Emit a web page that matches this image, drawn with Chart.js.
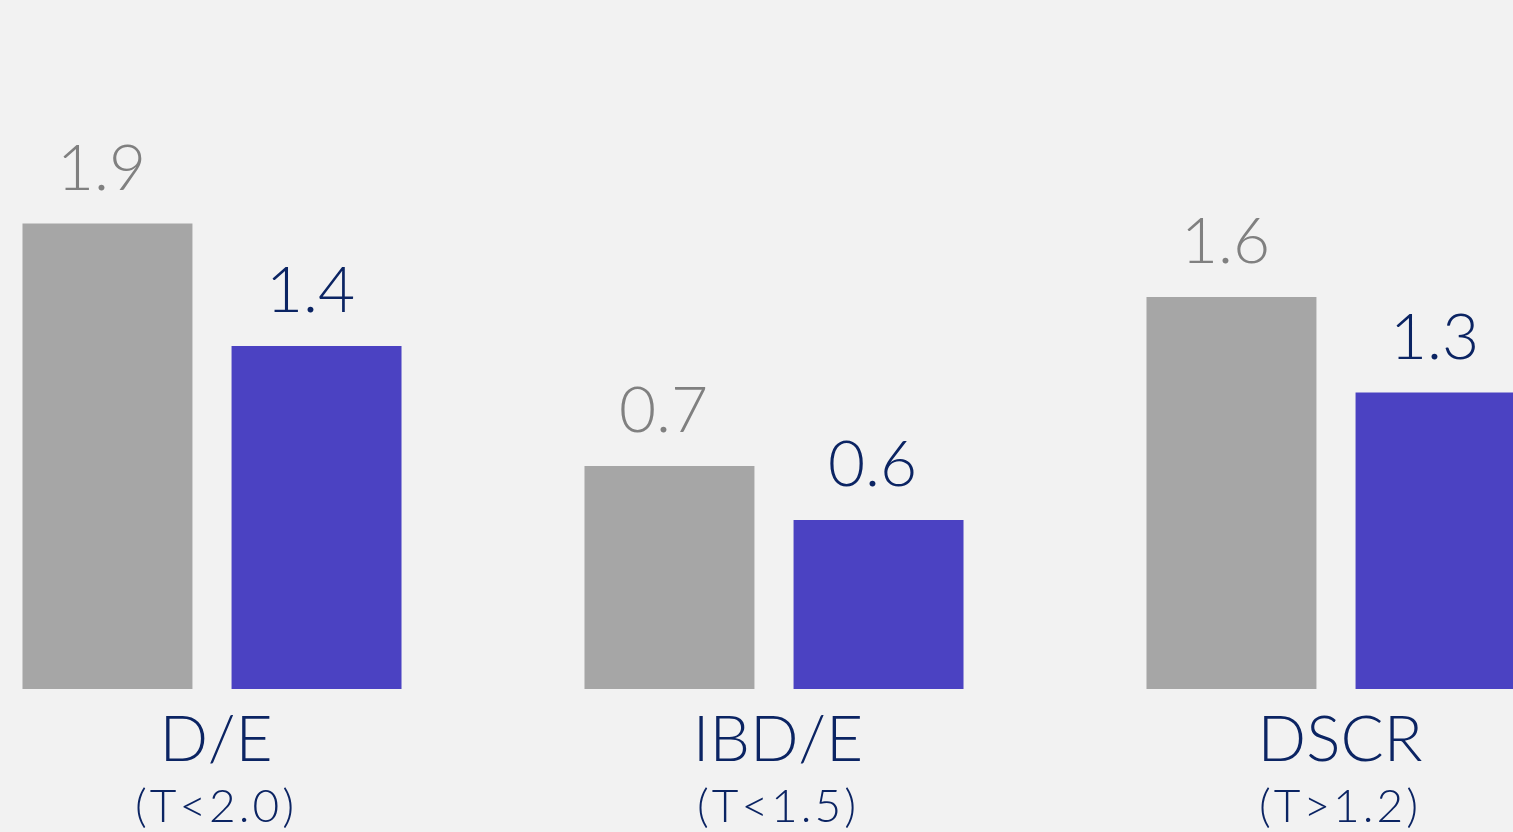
<!DOCTYPE html>
<html>
<head>
<meta charset="utf-8">
<script src="https://cdn.jsdelivr.net/npm/chart.js@4"></script>
<style>
    html, body { margin: 0; padding: 0; background: #f2f2f2; overflow: hidden; }
    #wrap { position: relative; width: 1513px; height: 832px; overflow: hidden; }
    #holder { position: absolute; left: -69px; top: 0; width: 1686px; height: 832px; }
</style>
</head>
<body>
<div id="wrap"><div id="holder"><canvas id="chart"></canvas></div></div>
<script>
// Data
const categories = ['D/E', 'IBD/E', 'DSCR'];
const thresholds = ['(T<2.0)', '(T<1.5)', '(T>1.2)'];
// bar heights
const seriesA = [1.9, 0.91, 1.6];
const seriesB = [1.4, 0.69, 1.21];
// value labels as printed above the bars
const labelsA = ['1.9', '0.7', '1.6'];
const labelsB = ['1.4', '0.6', '1.3'];

const FONT = 'Lato, "Noto Sans", sans-serif';
const GRAY_BAR = '#a6a6a6';
const BLUE_BAR = '#4b42c2';
const GRAY_TEXT = '#808080';
const NAVY_TEXT = '#0b2463';

// Draws value labels above bars and two-line category labels below
const labelPlugin = {
    id: 'labels',
    afterDatasetsDraw(chart) {
        const ctx = chart.ctx;
        const texts = [labelsA, labelsB];
        const colors = [GRAY_TEXT, NAVY_TEXT];
        ctx.save();
        ctx.textAlign = 'center';
        ctx.textBaseline = 'alphabetic';
        ctx.font = '300 64px ' + FONT;
        chart.data.datasets.forEach((ds, di) => {
            chart.getDatasetMeta(di).data.forEach((bar, i) => {
                ctx.fillStyle = colors[di];
                ctx.fillText(texts[di][i], bar.x - 6, bar.y - 34);
            });
        });

        const xScale = chart.scales.x;
        const bottom = chart.chartArea.bottom;
        ctx.fillStyle = NAVY_TEXT;
        categories.forEach((c, i) => {
            const x = xScale.getPixelForValue(i);
            ctx.letterSpacing = '0px';
            ctx.font = '300 64px ' + FONT;
            ctx.fillText(c, x + 4, bottom + 72);
            ctx.letterSpacing = '3px';
            ctx.font = '300 46px ' + FONT;
            ctx.fillText(thresholds[i], x + 4, bottom + 133);
        });
        ctx.restore();
    }
};

new Chart(document.getElementById('chart'), {
    type: 'bar',
    data: {
        labels: categories,
        datasets: [
            { data: seriesA, backgroundColor: GRAY_BAR },
            { data: seriesB, backgroundColor: BLUE_BAR }
        ]
    },
    options: {
        responsive: true,
        maintainAspectRatio: false,
        animation: false,
        layout: { padding: { top: 3, bottom: 143, left: 0, right: 0 } },
        datasets: {
            bar: { barPercentage: 0.813, categoryPercentage: 0.744 }
        },
        plugins: {
            legend: { display: false },
            tooltip: { enabled: false }
        },
        scales: {
            x: {
                display: false,
                offset: true
            },
            y: {
                display: false,
                min: 0,
                max: 2.8
            }
        }
    },
    plugins: [labelPlugin]
});
</script>
</body>
</html>
